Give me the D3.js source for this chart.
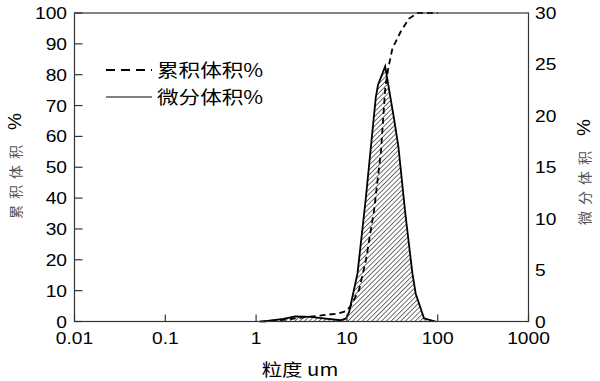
<!DOCTYPE html>
<html><head><meta charset="utf-8">
<script src="https://cdn.jsdelivr.net/npm/d3@7"></script>
<style>body{margin:0;background:#fff}svg{display:block}</style>
</head><body>
<svg id="c" width="600" height="381"></svg>
<script>
// particle size (um) and differential volume % (right axis)
const diffSize = [1.2, 2, 2.7, 4, 5.5, 8.5, 9.8, 10.6, 13.1, 16.2, 20.8, 22, 26.4, 33.2, 36.9, 44, 52.6, 57.3, 70.8, 95];
const diffVal  = [0, 0.25, 0.5, 0.45, 0.3, 0.12, 0.3, 0.95, 4.7, 12.1, 21.8, 23, 24.8, 19.6, 17.0, 10.5, 4.7, 2.7, 0.3, 0];
// cumulative volume % (left axis)
const cumSize = [1.1, 2, 3, 5, 8, 9.7, 11, 13.6, 16.2, 19.9, 23.7, 26.5, 28.5, 31.7, 39.2, 48.4, 59.7, 100];
const cumVal  = [0, 0.5, 1.2, 1.9, 2.6, 3.3, 5, 10.2, 19.9, 36, 55, 76, 82, 88.5, 94, 98.2, 100, 100];
const xTicks = [0.01, 0.1, 1, 10, 100, 1000];
const xTickLabels = ["0.01", "0.1", "1", "10", "100", "1000"];
const yLeftTicks = [0, 10, 20, 30, 40, 50, 60, 70, 80, 90, 100];
const yRightTicks = [0, 5, 10, 15, 20, 25, 30];
const legendLabels = ["累积体积%", "微分体积%"];

const svg = d3.select("#c");
const L = 74.5, R = 528.5, T = 13, B = 321.5;
const x = d3.scaleLog().domain([0.01, 1000]).range([L, R]);
const yL = d3.scaleLinear().domain([0, 100]).range([B, T]);
const yR = d3.scaleLinear().domain([0, 30]).range([B, T]);
const SX = 1.2;
const font = "'Liberation Sans', Arial, sans-serif";
const cjk = "'Noto Sans CJK SC', sans-serif";

function stext(g, tx, ty, str, size, anchor, fam, fill) {
  return g.append("text").attr("transform", `translate(${tx},${ty}) scale(${SX},1)`)
    .attr("text-anchor", anchor).attr("font-size", size).attr("font-family", fam)
    .attr("fill", fill || "#000").text(str);
}

// hatch pattern
const defs = svg.append("defs");
const pat = defs.append("pattern").attr("id", "hatch").attr("patternUnits", "userSpaceOnUse")
  .attr("width", 3.4).attr("height", 3.4).attr("patternTransform", "rotate(45)");
pat.append("line").attr("x1", 0).attr("y1", 0).attr("x2", 0).attr("y2", 3.4)
  .attr("stroke", "#000").attr("stroke-width", 1.1);

const diff = diffSize.map((s, i) => [s, diffVal[i]]);
const cum = cumSize.map((s, i) => [s, cumVal[i]]);

svg.append("path").datum(diff)
  .attr("d", d3.area().x(d => x(d[0])).y0(B).y1(d => yR(d[1])))
  .attr("fill", "url(#hatch)");
svg.append("path").datum(diff)
  .attr("d", d3.line().x(d => x(d[0])).y(d => yR(d[1])))
  .attr("fill", "none").attr("stroke", "#000").attr("stroke-width", 1.8);
svg.append("path").datum(cum)
  .attr("d", d3.line().x(d => x(d[0])).y(d => yL(d[1])))
  .attr("fill", "none").attr("stroke", "#000").attr("stroke-width", 1.8).attr("stroke-dasharray", "6,4");

// frame
svg.append("rect").attr("x", L).attr("y", T).attr("width", R - L).attr("height", B - T)
  .attr("fill", "none").attr("stroke", "#333").attr("stroke-width", 1.2);

// ticks (inward)
const g = svg.append("g");
g.selectAll(".xt").data(xTicks).enter().append("line")
  .attr("x1", d => x(d)).attr("x2", d => x(d)).attr("y1", B).attr("y2", B - 7)
  .attr("stroke", "#333").attr("stroke-width", 1.2);
g.selectAll(".yt").data(yLeftTicks).enter().append("line")
  .attr("x1", L).attr("x2", L + 8).attr("y1", d => yL(d)).attr("y2", d => yL(d))
  .attr("stroke", "#333").attr("stroke-width", 1.2);

xTicks.forEach((t, i) => stext(g, x(t), 344, xTickLabels[i], 16, "middle", font));
yLeftTicks.forEach(t => stext(g, 67, yL(t) + (t === 0 ? 6 : 6), String(t), 16, "end", font));
yRightTicks.forEach(t => stext(g, 535, yR(t) + (t === 0 ? 6 : 6), String(t), 16, "start", font));

// axis titles
stext(g, 300, 376, "粒度 um", 17, "middle", cjk);
const lt = g.append("text").attr("transform", "translate(21,166) rotate(-90)")
  .attr("text-anchor", "middle").attr("font-family", cjk);
lt.append("tspan").attr("font-size", 14).attr("fill", "#555").attr("letter-spacing", 6).text("累积体积 ");
lt.append("tspan").attr("font-size", 19).attr("font-family", font).attr("fill", "#000").text("%");
const rt = g.append("text").attr("transform", "translate(590,172) rotate(-90)")
  .attr("text-anchor", "middle").attr("font-family", cjk);
rt.append("tspan").attr("font-size", 14).attr("fill", "#555").attr("letter-spacing", 6).text("微分体积 ");
rt.append("tspan").attr("font-size", 19).attr("font-family", font).attr("fill", "#000").text("%");

// legend
const ly = [70, 97];
g.append("line").attr("x1", 106).attr("x2", 152).attr("y1", ly[0]).attr("y2", ly[0])
  .attr("stroke", "#000").attr("stroke-width", 1.8).attr("stroke-dasharray", "9,6");
g.append("line").attr("x1", 106).attr("x2", 152).attr("y1", ly[1]).attr("y2", ly[1])
  .attr("stroke", "#000").attr("stroke-width", 1.2);
legendLabels.forEach((s, i) => stext(g, 157, ly[i] + 7, s, 18, "start", cjk));
</script>
</body></html>
